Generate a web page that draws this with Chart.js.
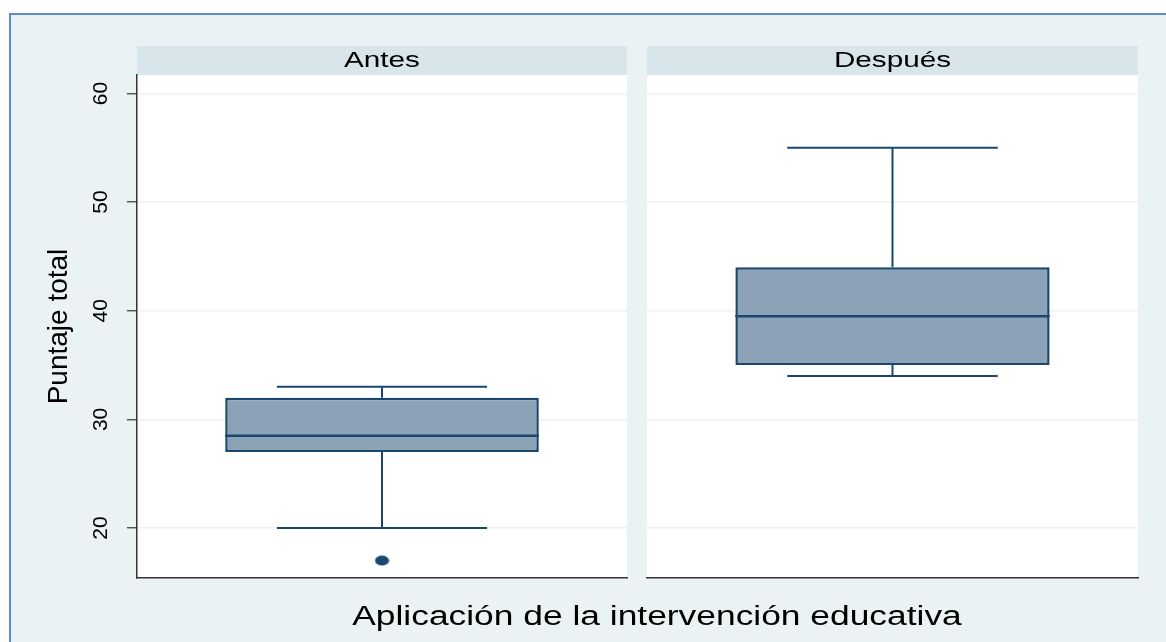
<!DOCTYPE html>
<html>
<head>
<meta charset="utf-8">
<script src="https://cdn.jsdelivr.net/npm/chart.js@4.4.1/dist/chart.umd.min.js"></script>
<style>
    body { margin: 0; width: 1166px; height: 642px; overflow: hidden; background: #fff; position: relative;
           font-family: "Liberation Sans", Arial, sans-serif; }
    #marco { position: absolute; left: 9px; top: 13px; right: 0; bottom: 0; background: #eaf2f3;
             border-top: 2px solid #5b8ac4; border-left: 2px solid #5b8ac4; }
    canvas { position: absolute; top: 0; }
    #c1 { left: 0; }
    #c2 { left: 637px; }
    #xtitulo { position: absolute; left: 407px; width: 500px; top: 601px; line-height: 30px; font-size: 27px;
               text-align: center; white-space: nowrap; color: #000; transform: scaleX(1.31); transform-origin: 50% 50%; }
</style>
</head>
<body>
<div id="marco"></div>
<canvas id="c1" width="637" height="642"></canvas>
<canvas id="c2" width="529" height="642"></canvas>
<div id="xtitulo">Aplicación de la intervención educativa</div>
<script>
// valores (puntaje total antes y después)
const grupos = ['Antes', 'Después'];
const minimos = [20, 34];
const cuartil1 = [27, 35];
const medianas = [28.5, 39.5];
const cuartil3 = [32, 44];
const maximos = [33, 55];
const atipicos = [[17], []];
const ticksY = [20, 30, 40, 50, 60];
const rangoY = [15.4, 61.7];

const azul = '#1a476f';
const relleno = '#8ca3b7';

// marcador un poco ovalado, como en el original
const punto = document.createElement('canvas');
punto.width = 15; punto.height = 11;
{
    const c = punto.getContext('2d');
    c.fillStyle = azul;
    c.beginPath();
    c.ellipse(7.5, 5.5, 7, 5, 0, 0, Math.PI * 2);
    c.fill();
}

// dibuja el fondo blanco del panel y la franja del título
const panelPlugin = {
    id: 'panel',
    beforeDraw(chart, args, opts) {
        const { ctx, chartArea: a } = chart;
        ctx.save();
        ctx.fillStyle = '#fff';
        ctx.fillRect(a.left, a.top, a.right - a.left, a.bottom - a.top);
        ctx.fillStyle = '#d8e5ea';
        ctx.fillRect(a.left, a.top - 29, a.right - a.left, 29);
        ctx.fillStyle = '#000';
        ctx.font = '22px "Liberation Sans", Arial, sans-serif';
        ctx.textAlign = 'center';
        ctx.textBaseline = 'middle';
        ctx.translate((a.left + a.right) / 2, a.top - 14);
        ctx.scale(1.35, 1);
        ctx.fillText(opts.titulo, 0, 0);
        ctx.restore();
    }
};

// mediana, bigotes y topes a partir de la barra (q1-q3)
const bigotesPlugin = {
    id: 'bigotes',
    afterDatasetsDraw(chart, args, opts) {
        const i = opts.indice;
        const { ctx } = chart;
        const y = chart.scales.y;
        const barra = chart.getDatasetMeta(0).data[0];
        const x = barra.x;
        const w = barra.width;
        const tope = w * 0.67;
        ctx.save();
        ctx.strokeStyle = azul;
        ctx.lineCap = 'butt';
        ctx.lineWidth = 2;
        ctx.beginPath();
        ctx.moveTo(x, y.getPixelForValue(cuartil3[i]));
        ctx.lineTo(x, y.getPixelForValue(maximos[i]));
        ctx.moveTo(x, y.getPixelForValue(cuartil1[i]));
        ctx.lineTo(x, y.getPixelForValue(minimos[i]));
        ctx.moveTo(x - tope / 2, y.getPixelForValue(maximos[i]));
        ctx.lineTo(x + tope / 2, y.getPixelForValue(maximos[i]));
        ctx.moveTo(x - tope / 2, y.getPixelForValue(minimos[i]));
        ctx.lineTo(x + tope / 2, y.getPixelForValue(minimos[i]));
        ctx.stroke();
        ctx.lineWidth = 2.5;
        ctx.beginPath();
        ctx.moveTo(x - w / 2, y.getPixelForValue(medianas[i]));
        ctx.lineTo(x + w / 2, y.getPixelForValue(medianas[i]));
        ctx.stroke();
        ctx.restore();
    }
};

function ejeY(conEtiquetas) {
    const eje = {
        min: rangoY[0],
        max: rangoY[1],
        afterBuildTicks: s => { s.ticks = ticksY.map(v => ({ value: v })); },
        grid: { color: '#eaf2f3', lineWidth: 1.5 },
    };
    if (conEtiquetas) {
        eje.afterFit = s => { s.width = 137; };
        eje.ticks = {
            color: '#000', font: { size: 21, family: '"Liberation Sans", Arial, sans-serif' },
            minRotation: 90, maxRotation: 90, crossAlign: 'center', padding: 14
        };
        eje.grid.tickColor = '#444';
        eje.grid.tickLength = 10;
        eje.grid.tickWidth = 1.3;
        eje.border = { color: '#333', width: 1.5 };
        eje.title = {
            display: true, text: 'Puntaje total', color: '#000',
            font: { size: 28, family: '"Liberation Sans", Arial, sans-serif' },
            padding: { top: 42, bottom: 0 }
        };
    } else {
        eje.afterFit = s => { s.width = 0; };
        eje.ticks = { display: false };
        eje.grid.drawTicks = false;
        eje.border = { display: false };
    }
    return eje;
}

function crearPanel(canvas, i, padding) {
    return new Chart(canvas, {
        type: 'bar',
        data: {
            labels: [grupos[i]],
            datasets: [
                {
                    data: [[cuartil1[i], cuartil3[i]]],
                    backgroundColor: relleno,
                    borderColor: azul,
                    borderWidth: 2.5,
                    borderSkipped: false,
                    barPercentage: 0.64,
                    categoryPercentage: 1
                },
                {
                    type: 'line',
                    data: atipicos[i].map(v => ({ x: grupos[i], y: v })),
                    showLine: false,
                    pointStyle: punto,
                    pointRadius: 6
                }
            ]
        },
        options: {
            responsive: false,
            animation: false,
            devicePixelRatio: 1,
            layout: { padding },
            scales: {
                x: {
                    grid: { display: false, drawTicks: false },
                    ticks: { display: false },
                    border: { color: '#333', width: 1.5 },
                    afterFit: s => { s.height = 0; }
                },
                y: ejeY(i === 0)
            },
            plugins: {
                legend: { display: false },
                tooltip: { enabled: false },
                panel: { titulo: grupos[i] },
                bigotes: { indice: i }
            }
        },
        plugins: [panelPlugin, bigotesPlugin]
    });
}

crearPanel(document.getElementById('c1'), 0, { left: 0, top: 75, right: 10, bottom: 64 });
crearPanel(document.getElementById('c2'), 1, { left: 10, top: 75, right: 28, bottom: 64 });
</script>
</body>
</html>
